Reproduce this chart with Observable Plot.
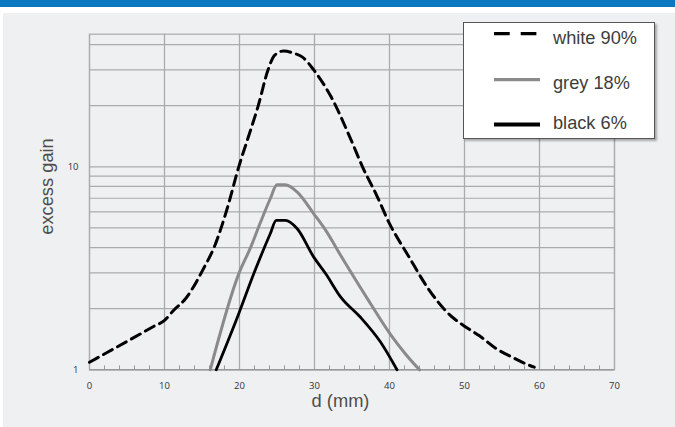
<!DOCTYPE html>
<html>
<head>
<meta charset="utf-8">
<script src="https://cdn.jsdelivr.net/npm/d3@7"></script>
<script src="https://cdn.jsdelivr.net/npm/@observablehq/plot@0.6"></script>
<style>
  html, body { margin: 0; padding: 0; background: #ffffff; }
  body { width: 675px; height: 427px; position: relative; overflow: hidden; }
  #topbar { position: absolute; left: 0; top: 0; width: 675px; height: 7px; background: #0a77c1; }
  #panel { position: absolute; left: 3px; top: 13px; width: 672px; height: 414px; background: #eff0f2; }
  #panel svg { display: block; }
  #legend { position: absolute; left: 463px; top: 22px; width: 192px; height: 117px; box-sizing: border-box;
            background: #ffffff; border: 1px solid #555; box-shadow: 2px 2px 2px rgba(0,0,0,0.3); }
  #legend svg { position: absolute; left: -1px; top: -1px; }
</style>
</head>
<body>
<div id="topbar"></div>
<div id="panel"></div>
<div id="legend"></div>
<script>
// ---- data ----
const xTicks = [0, 10, 20, 30, 40, 50, 60, 70];
const minorX = [2,4,6,8,12,14,16,18,22,24,26,28,32,34,36,38,42,44,46,48,52,54,56,58,62,64,66,68];
const yTickLabels = [1, 10];
const yGrid = [2, 3, 4, 5, 6, 7, 8, 9, 10, 20, 30, 40];

const seriesNames = ["white 90%", "grey 18%", "black 6%"];

const whiteX = [0, 2.4, 5.9, 8.6, 10, 11.2, 12.8, 15.3, 16.6, 18.4, 19.9, 21.2, 22.5, 23.8, 24.7, 25.9, 27.2, 28.4, 29.9, 32.1, 34.9, 36.4, 38.3, 40, 42.5, 45.1, 48, 50, 52, 54.1, 56.3, 58.7, 59.3];
const whiteY = [1.09, 1.22, 1.44, 1.64, 1.75, 1.96, 2.24, 3.2, 4.0, 6.3, 10, 14.1, 20, 30, 35.5, 37.2, 36.3, 34.7, 30, 22.5, 13.5, 10, 7.22, 5.25, 3.65, 2.53, 1.87, 1.64, 1.47, 1.28, 1.156, 1.05, 1.03];

const greyX = [16.1, 19.9, 21.5, 22.8, 24.1, 25, 26.1, 27.7, 29.9, 31.5, 33.5, 36.8, 40.1, 42.1, 44];
const greyY = [1, 2.97, 4.02, 5.33, 6.96, 8.15, 8.15, 7.5, 5.87, 4.86, 3.66, 2.32, 1.5, 1.2, 1];

const blackX = [16.9, 19.9, 21.9, 24.1, 24.9, 26.1, 27.7, 29.9, 31.5, 33.5, 36.1, 38.8, 41];
const blackY = [1, 1.89, 2.97, 4.68, 5.44, 5.44, 4.95, 3.59, 2.97, 2.28, 1.82, 1.37, 1];

const toRows = (xs, ys) => xs.map((x, i) => ({x, y: ys[i]}));
const white = toRows(whiteX, whiteY);
const grey = toRows(greyX, greyY);
const black = toRows(blackX, blackY);

const gridColor = "#ababab";
const titleFont = "'Liberation Sans', Arial, sans-serif";
const tickFont = "'Open Sans', 'DejaVu Sans', sans-serif";

const chart = Plot.plot({
  width: 672,
  height: 414,
  marginLeft: 86,
  marginRight: 61,
  marginTop: 20.7,
  marginBottom: 57.7,
  style: {background: "transparent", overflow: "visible"},
  x: {domain: [0, 70]},
  y: {type: "log", domain: [1, 45]},
  marks: [
    Plot.ruleY(yGrid, {stroke: gridColor, strokeWidth: 1.2}),
    Plot.ruleX(xTicks, {stroke: gridColor, strokeWidth: 1.3}),
    Plot.frame({stroke: gridColor, strokeWidth: 1.2}),
    Plot.ruleY([1], {stroke: "#999", strokeWidth: 1.5}),
    Plot.ruleX(minorX, {y1: 1, y2: 1.045, stroke: "#999", strokeWidth: 1}),
    Plot.axisX({ticks: xTicks, tickSize: 0, tickPadding: 12, label: null, fontSize: 9.5, fontFamily: tickFont, fill: "#333", tickFormat: d => String(d)}),
    Plot.axisY({ticks: yTickLabels, tickSize: 0, tickPadding: 11, label: null, fontSize: 9.5, fontFamily: tickFont, fill: "#333", tickFormat: d => String(d)}),
    Plot.line(white, {x: "x", y: "y", stroke: "#000", strokeWidth: 3, strokeDasharray: "10,6", curve: "monotone-x"}),
    Plot.line(grey, {x: "x", y: "y", stroke: "#8a8a8a", strokeWidth: 3, curve: "monotone-x"}),
    Plot.line(black, {x: "x", y: "y", stroke: "#000", strokeWidth: 2.8, curve: "monotone-x"}),
    Plot.text(["d (mm)"], {frameAnchor: "bottom", textAnchor: "middle", lineAnchor: "middle", dx: -11.5, dy: 31.6, fontSize: 18.3, fontFamily: titleFont, fill: "#4d4d4d"}),
    Plot.text(["excess gain"], {frameAnchor: "left", textAnchor: "middle", lineAnchor: "middle", rotate: -90, dx: -42.3, dy: -15.5, fontSize: 18.3, fontFamily: titleFont, fill: "#4d4d4d"})
  ]
});
document.getElementById("panel").appendChild(chart);

// ---- legend ----
const lg = d3.select("#legend").append("svg").attr("width", 192).attr("height", 117);
const rowLineY = [11.6, 57.6, 102.6];
const rowTextY = [21.6, 66.6, 107.3];
const styles = [
  {stroke: "#000", width: 3.4, dash: "15.7,11", x2: 74},
  {stroke: "#8a8a8a", width: 3.3, dash: null, x2: 77},
  {stroke: "#000", width: 4, dash: null, x2: 77}
];
seriesNames.forEach((name, i) => {
  const s = styles[i];
  lg.append("line").attr("x1", 31).attr("x2", s.x2).attr("y1", rowLineY[i]).attr("y2", rowLineY[i])
    .attr("stroke", s.stroke).attr("stroke-width", s.width).attr("stroke-dasharray", s.dash);
  lg.append("text").attr("x", 90).attr("y", rowTextY[i]).text(name)
    .attr("font-family", titleFont).attr("font-size", 18.2).attr("fill", "#3d3d3d");
});
</script>
</body>
</html>
